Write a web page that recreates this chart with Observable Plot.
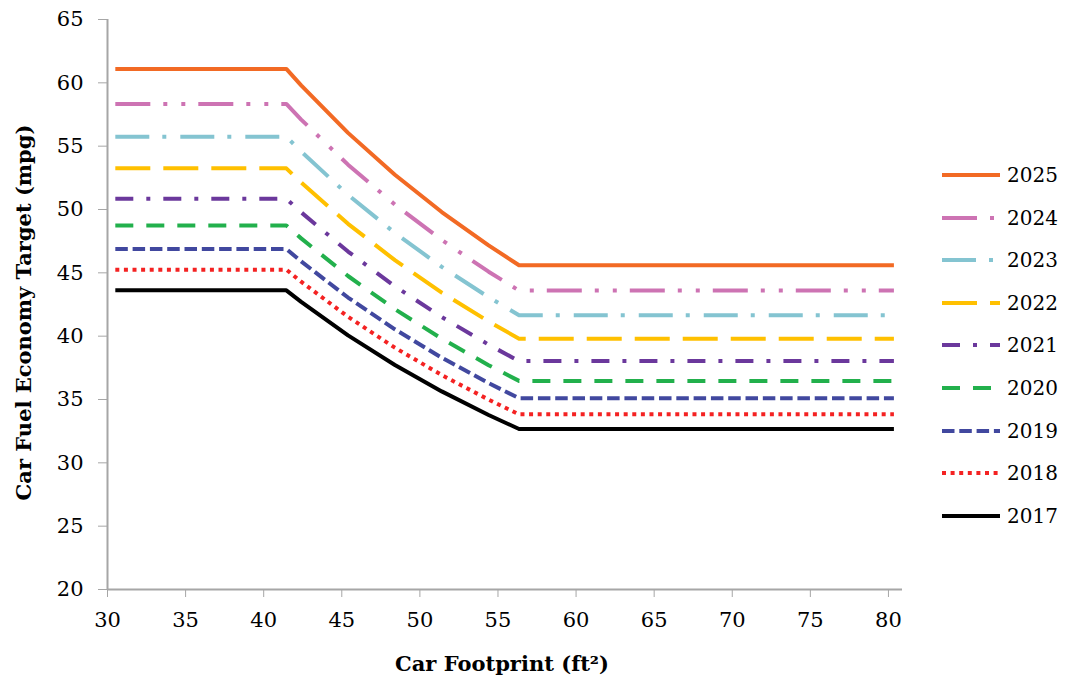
<!DOCTYPE html>
<html>
<head>
<meta charset="utf-8">
<script src="https://cdn.jsdelivr.net/npm/d3@7"></script>
<script src="https://cdn.jsdelivr.net/npm/@observablehq/plot@0.6"></script>
<style>
  html, body { margin: 0; padding: 0; background: #fff; }
  #wrap { position: relative; width: 1065px; height: 683px; }
  #legend { position: absolute; left: 942px; top: 0; font-family: "DejaVu Serif", serif; font-size: 20px; color: #000; }
  .row { position: absolute; left: 0; display: flex; align-items: center; height: 24px; white-space: nowrap; }
  .row svg { width: 58px; height: 10px; margin-right: 7px; }
</style>
</head>
<body>
<div id="wrap"><div id="chart"></div><div id="legend"></div></div>
<script>
const years = [2025, 2024, 2023, 2022, 2021, 2020, 2019, 2018, 2017];
const footprint = [30.5, 41.45, 42.4, 45.4, 48.4, 51.4, 54.4, 56.35, 80.35];
const mpg2025 = [61.10, 61.10, 59.80, 56.05, 52.74, 49.80, 47.17, 45.60, 45.60];
const mpg2024 = [58.33, 58.33, 57.10, 53.54, 50.39, 47.59, 45.09, 43.60, 43.60];
const mpg2023 = [55.75, 55.75, 54.57, 51.16, 48.15, 45.47, 43.08, 41.65, 41.65];
const mpg2022 = [53.25, 53.25, 52.13, 48.87, 46.00, 43.44, 41.16, 39.80, 39.80];
const mpg2021 = [50.85, 50.85, 49.78, 46.68, 43.94, 41.51, 39.33, 38.03, 38.03];
const mpg2020 = [48.74, 48.74, 47.72, 44.75, 42.13, 39.80, 37.71, 36.47, 36.47];
const mpg2019 = [46.88, 46.88, 45.90, 43.05, 40.54, 38.30, 36.29, 35.10, 35.10];
const mpg2018 = [45.25, 45.25, 44.30, 41.53, 39.09, 36.93, 34.99, 33.83, 33.83];
const mpg2017 = [43.62, 43.62, 42.71, 40.06, 37.72, 35.64, 33.78, 32.67, 32.67];
const xTicks = [30, 35, 40, 45, 50, 55, 60, 65, 70, 75, 80];
const yTicks = [20, 25, 30, 35, 40, 45, 50, 55, 60, 65];
const xTitle = "Car Footprint (ft²)";
const yTitle = "Car Fuel Economy Target (mpg)";

const series = [mpg2025, mpg2024, mpg2023, mpg2022, mpg2021, mpg2020, mpg2019, mpg2018, mpg2017];
const colors = ["#f26a24", "#cd73b3", "#84c4d1", "#ffc000", "#6b389c", "#22b04c", "#41489f", "#f42222", "#000000"];
const dashes = ["none", "35 13 4 14 4 13", "34 13 4 14", "35 13", "18 13 4 13", "18 13", "12.5 4.8", "4 4.6", "none"];

const rows = years.flatMap((yr, i) => footprint.map((f, j) => ({year: yr, footprint: f, mpg: series[i][j]})));

const axisGray = "#a6a6a6";
const lineMarks = years.map((yr, i) =>
  Plot.line(rows.filter(d => d.year === yr), {
    x: "footprint", y: "mpg", stroke: colors[i], strokeWidth: 4,
    strokeDasharray: dashes[i], strokeLinejoin: "round", strokeLinecap: "butt"
  })
).reverse();

const chart = Plot.plot({
  width: 1065,
  height: 683,
  marginLeft: 107,
  marginRight: 163,
  marginTop: 19,
  marginBottom: 94,
  style: {fontFamily: "DejaVu Serif", fontSize: "20px", color: "#000", background: "#fff"},
  x: {domain: [30, 80.9]},
  y: {domain: [20, 65]},
  marks: [
    Plot.axisX({ticks: xTicks, tickSize: 8, tickPadding: 15, stroke: axisGray, fill: "#000", fontSize: 21, label: null}),
    Plot.axisY({ticks: yTicks, tickSize: 9, tickPadding: 15, stroke: axisGray, fill: "#000", fontSize: 21, label: null}),
    Plot.ruleY([20], {stroke: axisGray, strokeWidth: 2}),
    Plot.ruleX([30], {stroke: axisGray, strokeWidth: 2}),
    ...lineMarks,
    Plot.text([xTitle], {frameAnchor: "bottom", dy: 75, dx: -3, text: d => d, fontWeight: "bold", fontSize: 21, lineAnchor: "middle", textAnchor: "middle"}),
    Plot.text([yTitle], {frameAnchor: "left", dx: -83, dy: 8, rotate: -90, text: d => d, fontWeight: "bold", fontSize: 21, lineAnchor: "middle", textAnchor: "middle"})
  ]
});
document.getElementById("chart").appendChild(chart);

const legend = document.getElementById("legend");
years.forEach((yr, i) => {
  const row = document.createElement("div");
  row.className = "row";
  row.style.top = (175 + i * 42.6 - 12) + "px";
  const dash = dashes[i] === "none" ? "" : `stroke-dasharray="${dashes[i]}"`;
  row.innerHTML = `<svg viewBox="0 0 58 10"><line x1="0" y1="5" x2="58" y2="5" stroke="${colors[i]}" stroke-width="4" ${dash}/></svg><span>${yr}</span>`;
  legend.appendChild(row);
});
</script>
</body>
</html>
